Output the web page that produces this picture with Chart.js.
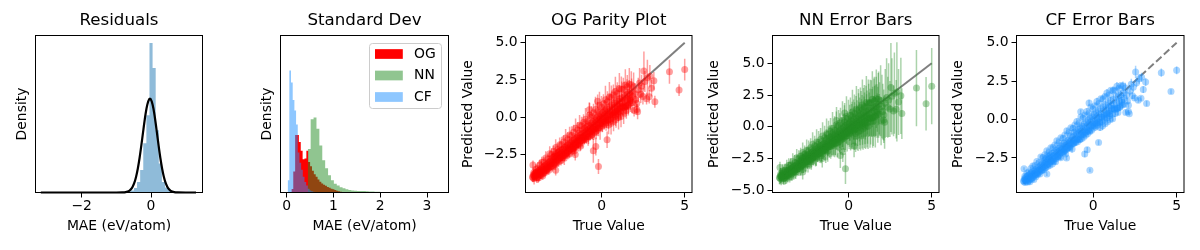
<!DOCTYPE html>
<html>
<head>
<meta charset="utf-8">
<script src="https://cdn.jsdelivr.net/npm/chart.js@4.4.1/dist/chart.umd.min.js"></script>
<style>
  html, body { margin: 0; padding: 0; background: #fff; }
  #figure { position: relative; width: 1200px; height: 250px; overflow: hidden; }
  #figure canvas { position: absolute; top: 0; }
</style>
</head>
<body>
<div id="figure">
  <canvas id="residuals"></canvas>
  <canvas id="stddev"></canvas>
  <canvas id="ogParity"></canvas>
  <canvas id="nnParity"></canvas>
  <canvas id="cfParity"></canvas>
</div>
<script>
// ---- residuals panel ----
const residualRange = [-3.18, 1.30];
const residualDensity = [
  0.004, 0, 0, 0.004, 0, 0, 0, 0, 0, 0,
  0, 0, 0, 0, 0.004, 0.004, 0.004, 0.004, 0, 0,
  0, 0, 0, 0.004, 0.004, 0.006, 0.012, 0.015, 0.025, 0.04,
  0.09, 0.21, 0.45, 0.99, 1.55, 3.0, 2.5, 1.25, 0.58, 0.21,
  0.1, 0.045, 0.02, 0.01, 0.006, 0.004, 0, 0.004, 0, 0.004
];
const fitX = [-3.18, -1.5, -1.0, -0.83, -0.73, -0.63, -0.58, -0.53, -0.48, -0.43, -0.38, -0.33, -0.28, -0.23, -0.18, -0.13, -0.08,
  -0.03, 0.02, 0.07, 0.12, 0.17, 0.22, 0.27, 0.32, 0.37, 0.42, 0.47, 0.52, 0.57, 0.67, 0.77, 1.0, 1.30];
const fitY = [0, 0, 0, 0.0015, 0.008, 0.034, 0.065, 0.117, 0.198, 0.317, 0.482, 0.692, 0.939, 1.206, 1.465, 1.684, 1.830,
  1.882, 1.830, 1.684, 1.465, 1.206, 0.939, 0.692, 0.482, 0.317, 0.198, 0.117, 0.065, 0.034, 0.008, 0.0015, 0, 0];
const residualXTicks = [-2, 0];

// ---- standard deviation panel ----
const ogStdRange = [0.10, 1.26];
const ogStdDensity = [0.2, 1.2, 3.3, 3.3, 2.9, 2.4, 1.9, 1.95, 2.4, 1.75,
  1.5, 1.25, 1.05, 0.9, 0.75, 0.62, 0.52, 0.45, 0.38, 0.32,
  0.27, 0.22, 0.18, 0.14, 0.1, 0.07, 0.04, 0.02, 0.01];
const nnStdRange = [0.45, 2.434];
const nnStdDensity = [2.5, 4.2, 4.3, 3.65, 2.7, 1.85, 1.39, 0.99, 0.7, 0.5,
  0.4, 0.3, 0.25, 0.18, 0.15, 0.12, 0.1, 0.09, 0.08, 0.08,
  0.07, 0.06, 0.06, 0.05, 0.05, 0.02, 0, 0.03, 0, 0.02,
  0.03, 0.02];
const cfStdRange = [0.02, 0.812];
const cfStdDensity = [0.7, 7.0, 6.3, 5.3, 4.7, 3.9, 2.3, 1.7, 1.3, 0.9,
  0.6, 0.4, 0.22, 0.12, 0.07, 0.04, 0.03, 0.02, 0.015, 0.01,
  0.01, 0.005];
const stdXTicks = [0, 1, 2, 3];
const modelNames = ['OG', 'NN', 'CF'];

// ---- parity panels (same predictions, three uncertainty estimates) ----
const trueValue = [
  -4.18,-4.15,-4.12,-4.10,-4.08,-4.05,-4.02,-3.98,-3.95,-3.92,
  -3.90,-3.87,-3.84,-3.80,-3.78,-3.75,-3.72,-3.70,-3.67,-3.64,
  -3.61,-3.58,-3.55,-3.52,-3.50,-3.47,-3.44,-3.41,-3.38,-3.35,
  -3.32,-3.29,-3.26,-3.23,-3.20,-3.17,-3.14,-3.11,-3.08,-3.05,
  -3.02,
  -2.98,-2.96,-2.93,-2.90,-2.88,-2.85,-2.82,-2.80,-2.77,-2.74,
  -2.72,-2.69,-2.66,-2.63,-2.60,-2.58,-2.55,-2.52,-2.49,-2.46,
  -2.44,-2.41,-2.38,-2.35,-2.32,-2.29,-2.26,-2.23,-2.20,-2.17,
  -2.14,-2.11,-2.08,-2.05,-2.02,-1.99,-1.96,-1.93,-1.90,-1.87,
  -1.84,-1.81,-1.78,-1.75,-1.72,-1.69,-1.66,-1.63,-1.60,-1.57,
  -1.54,-1.51,
  -1.48,-1.45,-1.42,-1.39,-1.36,-1.33,-1.30,-1.27,-1.24,-1.21,
  -1.18,-1.15,-1.12,-1.09,-1.06,-1.03,-1.00,-0.97,-0.94,-0.91,
  -0.88,-0.85,-0.82,-0.79,-0.76,-0.73,-0.70,-0.67,-0.64,-0.61,
  -0.58,-0.55,-0.52,-0.49,-0.46,-0.43,-0.40,-0.37,-0.34,-0.31,
  -0.28,-0.25,-0.22,-0.19,-0.16,-0.13,-0.10,-0.07,-0.04,-0.01,
  0.02,0.05,0.08,0.11,0.14,0.17,0.20,0.23,0.26,0.29,
  0.32,0.35,0.38,0.41,0.44,0.47,0.50,0.53,0.56,0.59,
  0.62,0.65,0.68,0.71,0.74,0.77,0.80,0.83,0.86,0.89,
  0.92,0.95,0.98,1.01,1.04,1.07,1.10,1.13,1.16,1.20,
  1.24,1.28,1.32,1.36,1.40,1.44,1.48,1.52,1.56,1.60,
  1.65,1.70,
  1.75,1.80,1.85,1.92,1.95,2.00,2.05,2.11,2.11,2.16,
  2.20,2.28,2.35,2.40,2.48,2.54,2.60,2.70,2.75,2.86,
  2.90,3.00,3.14,3.20,
  -4.15,-2.78,-1.60,-0.51,-0.36,-0.20,0.32,-0.25,-0.75,4.08,4.66,5.00,
  // wider spread of the dense band
  -4.10,-4.04,-3.98,-3.92,-3.86,-3.80,-3.74,-3.68,-3.62,-3.56,
  -3.50,-3.44,-3.38,-3.32,-3.26,-3.20,-3.14,-3.08,-3.02,-2.96,
  -2.90,-2.84,-2.78,-2.72,-2.66,-2.60,-2.54,-2.48,-2.42,-2.36,
  -2.30,-2.24,-2.18,-2.12,-2.06,-2.00,-1.94,-1.88,-1.82,-1.76,
  -1.70,-1.64,-1.58,-1.52,-1.46,-1.40,-1.34,-1.28,-1.22,-1.16,
  -1.10,-1.04,-0.98,-0.92,-0.86,-0.80,-0.74,-0.68,-0.62,-0.56,
  -0.50,-0.44,-0.38,-0.32,-0.26,-0.20,-0.14,-0.08,-0.02,0.04,
  0.10,0.16,0.22,0.28,0.34,0.40,0.46,0.52,0.58,0.64,
  0.70,0.76,0.82,0.88,0.94,1.00,1.06,1.12,1.18,1.24,
  1.30,1.36,1.42,1.48,1.54,1.60,1.66,1.72,1.78,1.84
];
const predValue = [
  -3.98,-4.05,-3.85,-3.92,-4.10,-3.78,-3.95,-3.70,-3.88,-4.02,
  -3.65,-3.80,-3.95,-3.58,-3.72,-3.85,-3.50,-3.66,-3.80,-3.42,
  -3.58,-3.70,-3.35,-3.50,-3.62,-3.28,-3.45,-3.58,-3.20,-3.38,
  -3.50,-3.12,-3.30,-3.42,-3.02,-3.22,-3.35,-2.95,-3.12,-3.28,
  -2.86,
  -3.05,-2.70,-2.88,-3.15,-2.62,-2.80,-2.98,-2.50,-2.72,-2.92,
  -2.42,-2.60,-2.85,-2.35,-2.55,-2.75,-2.28,-2.48,-2.68,-2.90,
  -2.20,-2.40,-2.58,-2.12,-2.32,-2.52,-2.75,-2.02,-2.22,-2.42,
  -1.92,-2.12,-2.35,-1.85,-2.05,-2.25,-2.48,-1.72,-1.95,-2.15,
  -1.65,-1.88,-2.08,-1.55,-1.78,-2.00,-2.25,-1.45,-1.68,-1.90,
  -1.38,-1.60,
  -1.82,-1.30,-1.52,-1.75,-1.05,-1.40,-1.62,-1.92,-1.15,-1.35,
  -1.55,-0.82,-1.05,-1.28,-1.50,-0.75,-0.98,-1.20,-1.45,-0.62,
  -0.88,-1.10,-1.32,-0.55,-0.78,-1.00,-1.25,-0.40,-0.68,-0.90,
  -1.15,-0.30,-0.55,-0.78,-1.02,-0.15,-0.45,-0.65,-0.92,-0.05,
  -0.30,-0.55,-0.80,0.08,-0.18,-0.42,-0.70,0.20,-0.05,-0.30,
  -0.55,0.32,0.05,-0.22,-0.48,0.45,0.18,-0.08,-0.35,0.58,
  0.30,0.05,-0.22,-0.52,0.70,0.40,0.15,-0.12,-0.40,0.85,
  0.55,0.28,0.02,-0.28,0.95,0.68,0.40,0.12,-0.15,1.10,
  0.80,0.52,0.25,-0.02,1.22,0.92,0.62,0.35,0.05,1.30,
  0.98,0.68,0.40,1.48,1.10,0.75,0.45,1.55,1.20,0.85,
  1.62,1.25,
  0.95,1.75,1.40,2.05,0.45,1.60,1.20,0.93,0.53,0.37,
  1.85,2.30,1.55,2.10,1.40,3.10,2.40,1.25,2.65,1.38,
  2.75,1.95,2.44,1.04,
  -3.20,-3.55,-2.50,-2.25,-1.96,-3.30,-1.50,1.08,0.50,3.05,1.82,3.20,
  -3.70,-3.94,-3.48,-4.07,-3.41,-4.05,-3.19,-3.88,-3.02,-3.91,
  -3.00,-3.72,-2.73,-3.57,-2.81,-3.55,-2.44,-3.29,-2.47,-3.28,
  -2.30,-3.12,-2.03,-3.04,-2.16,-2.98,-1.84,-2.73,-1.82,-2.71,
  -1.65,-2.56,-1.38,-2.40,-1.51,-2.42,-1.19,-2.13,-1.22,-2.11,
  -1.00,-1.99,-0.73,-1.84,-0.86,-1.85,-0.54,-1.56,-0.57,-1.54,
  -0.35,-1.39,-0.13,-1.30,-0.26,-1.29,0.16,-0.96,0.08,-0.98,
  0.30,-0.82,0.52,-0.74,0.39,-0.72,0.81,-0.40,0.68,-0.41,
  0.90,-0.26,1.17,-0.17,1.04,-0.16,1.36,0.17,1.33,0.15,
  1.50,0.31,1.72,0.39,1.59,0.40,1.91,0.74,1.88,0.72,
  1.90,0.66,2.17,0.73,2.04,0.80,2.21,1.12,2.18,0.99
];
const ogStd = [
  0.35,0.30,0.28,0.40,0.41,0.25,0.30,0.22,0.35,0.38,
  0.20,0.28,0.45,0.24,0.30,0.42,0.22,0.26,0.35,0.48,
  0.20,0.32,0.25,0.22,0.40,0.30,0.24,0.36,0.21,0.45,
  0.28,0.23,0.33,0.26,0.50,0.22,0.30,0.38,0.24,0.28,
  0.35,
  0.30,0.25,0.42,0.35,0.22,0.28,0.55,0.20,0.32,0.40,
  0.26,0.22,0.48,0.30,0.24,0.36,0.20,0.45,0.28,0.33,
  0.25,0.52,0.30,0.22,0.38,0.27,0.44,0.24,0.60,0.30,
  0.21,0.35,0.42,0.26,0.50,0.30,0.23,0.46,0.28,0.35,
  0.22,0.55,0.30,0.40,0.25,0.48,0.32,0.27,0.62,0.36,
  0.24,0.45,
  0.35,0.28,0.50,0.32,0.40,0.26,0.65,0.30,0.45,0.28,
  0.38,0.55,0.30,0.42,0.33,0.27,0.70,0.36,0.30,0.48,
  0.32,0.40,0.58,0.29,0.45,0.35,0.31,0.62,0.38,0.44,
  0.30,0.50,0.36,0.75,0.40,0.33,0.46,0.30,0.55,0.42,
  0.36,0.68,0.32,0.48,0.40,0.35,0.80,0.44,0.38,0.52,
  0.45,0.38,0.60,0.42,0.35,0.70,0.48,0.40,0.55,0.85,
  0.44,0.50,0.38,0.62,0.90,0.46,0.52,0.40,0.75,0.95,
  0.48,0.58,0.42,0.66,1.00,0.50,0.45,0.70,0.55,1.05,
  0.52,0.62,0.48,0.80,0.95,0.55,0.68,0.50,0.72,1.10,
  0.58,0.65,0.85,0.90,0.60,0.75,0.55,1.00,0.70,0.62,
  0.88,0.75,
  0.60,0.85,0.50,0.95,0.40,0.70,0.55,0.45,0.35,0.50,
  0.80,1.00,0.60,0.75,0.55,1.30,0.70,0.40,1.20,0.45,
  0.75,0.55,0.60,0.40,
  0.30,0.35,0.40,0.80,0.60,0.50,0.55,0.45,0.50,0.80,0.40,0.73,
  0.30,0.25,0.35,0.22,0.40,0.28,0.32,0.25,0.38,0.30,
  0.35,0.28,0.45,0.30,0.38,0.32,0.50,0.27,0.42,0.35,
  0.40,0.30,0.55,0.35,0.42,0.33,0.48,0.30,0.52,0.38,
  0.45,0.35,0.60,0.38,0.50,0.40,0.55,0.33,0.62,0.42,
  0.50,0.38,0.65,0.42,0.55,0.45,0.70,0.40,0.60,0.48,
  0.55,0.42,0.75,0.45,0.60,0.50,0.80,0.44,0.68,0.52,
  0.60,0.48,0.85,0.50,0.65,0.55,0.90,0.48,0.75,0.58,
  0.65,0.52,0.95,0.55,0.70,0.60,1.00,0.52,0.80,0.62,
  0.70,0.55,1.00,0.58,0.75,0.65,1.05,0.55,0.85,0.65,
  0.75,0.60,1.05,0.62,0.80,0.68,1.10,0.60,0.90,0.70
];
const nnStd = [
  0.55,0.48,0.62,0.52,0.50,0.45,0.58,0.42,0.60,0.55,
  0.48,0.52,0.60,0.45,0.55,0.62,0.50,0.47,0.58,0.65,
  0.46,0.55,0.60,0.50,0.62,0.48,0.56,0.64,0.52,0.58,
  0.66,0.50,0.55,0.62,0.48,0.60,0.57,0.68,0.52,0.60,
  0.55,
  0.55,0.62,0.50,0.70,0.58,0.52,0.65,0.56,0.60,0.72,
  0.54,0.58,0.66,0.52,0.60,0.75,0.57,0.55,0.63,0.70,
  0.53,0.61,0.68,0.58,0.56,0.74,0.62,0.55,0.66,0.60,
  0.57,0.70,0.59,0.64,0.56,0.78,0.60,0.58,0.67,0.62,
  0.55,0.72,0.60,0.65,0.58,0.80,0.62,0.57,0.70,0.64,
  0.60,0.75,
  0.80,0.90,0.75,1.10,0.85,0.78,0.98,0.83,1.17,0.80,
  0.88,0.94,0.78,1.24,0.86,0.91,0.80,1.04,0.88,0.96,
  0.83,1.30,0.91,0.86,1.01,0.80,1.14,0.94,0.88,0.99,
  0.85,1.37,0.91,0.96,1.07,0.88,1.17,0.94,0.86,1.09,
  0.91,1.43,0.98,0.88,1.12,0.94,1.24,1.01,0.91,1.14,
  1.20,1.42,1.12,1.65,1.28,1.35,1.80,1.23,1.42,1.58,
  1.32,1.88,1.28,1.47,1.72,1.35,1.95,1.38,1.50,1.80,
  1.42,2.02,1.47,1.58,1.88,1.50,2.10,1.53,1.65,1.95,
  1.58,2.18,1.62,1.72,2.02,1.65,2.25,1.68,1.80,2.10,
  1.72,2.32,1.80,2.18,1.88,2.40,1.95,2.25,2.02,2.48,
  2.32,2.10,
  2.20,2.60,2.10,2.80,1.90,2.50,2.20,2.00,1.80,2.10,
  2.70,3.10,2.40,2.90,2.20,3.50,3.00,2.00,3.20,2.30,
  3.90,2.60,3.00,2.00,
  0.45,0.60,0.70,1.00,0.80,1.20,0.90,0.80,0.70,3.00,2.10,3.00,
  0.45,0.40,0.55,0.42,0.50,0.45,0.60,0.44,0.55,0.48,
  0.55,0.50,0.65,0.52,0.60,0.55,0.70,0.50,0.62,0.58,
  0.65,0.55,0.80,0.58,0.70,0.60,0.85,0.58,0.75,0.62,
  0.75,0.62,0.95,0.65,0.80,0.70,1.00,0.65,0.90,0.72,
  0.90,0.70,1.10,0.75,0.95,0.80,1.20,0.75,1.05,0.85,
  1.05,0.85,1.30,0.90,1.10,0.95,1.40,0.90,1.25,1.00,
  1.20,1.00,1.50,1.05,1.30,1.10,1.60,1.05,1.45,1.15,
  1.40,1.15,1.75,1.20,1.50,1.25,1.85,1.20,1.65,1.30,
  1.60,1.30,2.00,1.35,1.70,1.40,2.10,1.35,1.85,1.45,
  1.80,1.45,2.20,1.50,1.90,1.55,2.30,1.50,2.05,1.60
];
const cfStd = [
  0.10,0.08,0.12,0.07,0.18,0.09,0.11,0.07,0.13,0.10,
  0.08,0.15,0.09,0.07,0.12,0.10,0.08,0.14,0.07,0.11,
  0.09,0.13,0.07,0.08,0.16,0.10,0.07,0.12,0.09,0.08,
  0.20,0.07,0.11,0.09,0.13,0.08,0.10,0.07,0.15,0.09,
  0.11,
  0.08,0.12,0.07,0.15,0.09,0.10,0.07,0.13,0.08,0.18,
  0.09,0.07,0.11,0.14,0.08,0.10,0.07,0.12,0.16,0.09,
  0.08,0.11,0.07,0.13,0.10,0.08,0.20,0.09,0.07,0.12,
  0.10,0.08,0.14,0.07,0.11,0.09,0.17,0.08,0.12,0.07,
  0.10,0.13,0.08,0.09,0.15,0.07,0.11,0.10,0.08,0.22,
  0.09,0.12,
  0.10,0.14,0.08,0.12,0.18,0.09,0.11,0.25,0.10,0.13,
  0.08,0.15,0.11,0.09,0.20,0.12,0.10,0.14,0.08,0.17,
  0.11,0.09,0.13,0.22,0.10,0.12,0.08,0.16,0.11,0.10,
  0.14,0.09,0.19,0.12,0.10,0.15,0.08,0.13,0.11,0.24,
  0.10,0.14,0.09,0.12,0.18,0.11,0.10,0.16,0.13,0.12,
  0.12,0.15,0.10,0.18,0.13,0.20,0.11,0.14,0.25,0.16,
  0.12,0.18,0.10,0.22,0.15,0.13,0.19,0.11,0.28,0.17,
  0.14,0.20,0.12,0.16,0.24,0.15,0.13,0.21,0.12,0.30,
  0.16,0.14,0.22,0.13,0.26,0.18,0.15,0.20,0.14,0.32,
  0.17,0.15,0.24,0.28,0.18,0.22,0.16,0.30,0.20,0.18,
  0.26,0.22,
  0.20,0.30,0.18,0.35,0.15,0.25,0.20,0.16,0.14,0.12,
  0.28,0.35,0.22,0.30,0.18,0.40,0.28,0.15,0.32,0.16,
  0.30,0.22,0.25,0.18,
  0.10,0.12,0.15,0.20,0.18,0.12,0.15,0.20,0.16,0.27,0.15,0.25,
  0.08,0.10,0.07,0.12,0.09,0.08,0.11,0.07,0.10,0.09,
  0.09,0.12,0.08,0.10,0.14,0.09,0.11,0.08,0.13,0.10,
  0.10,0.08,0.15,0.11,0.09,0.13,0.10,0.12,0.08,0.14,
  0.11,0.09,0.16,0.12,0.10,0.14,0.09,0.13,0.18,0.11,
  0.12,0.10,0.18,0.13,0.11,0.15,0.10,0.14,0.20,0.12,
  0.13,0.11,0.20,0.14,0.12,0.16,0.11,0.15,0.22,0.13,
  0.14,0.12,0.22,0.15,0.13,0.18,0.12,0.16,0.24,0.14,
  0.15,0.13,0.24,0.16,0.14,0.20,0.13,0.18,0.26,0.15,
  0.16,0.14,0.26,0.18,0.15,0.22,0.14,0.20,0.28,0.16,
  0.18,0.15,0.28,0.20,0.16,0.24,0.15,0.22,0.30,0.18
];
const parityLine = [-4.18, 5.0];
const parityXTicks = [0, 5];
const ogYTicks = [-2.5, 0, 2.5, 5];
const nnYTicks = [-5, -2.5, 0, 2.5, 5];
const cfYTicks = [-2.5, 0, 2.5, 5];

// ---------------------------------------------------------------
const FONT = "'DejaVu Sans', sans-serif";
const TICK_SIZE = 13.9;
Chart.defaults.font.family = FONT;
Chart.defaults.font.size = TICK_SIZE;
Chart.defaults.color = '#000';
Chart.defaults.animation = false;

const withMinus = s => s.replace('-', '\u2212');
const intLabel = v => withMinus(String(v));
const oneDecimal = v => withMinus(v.toFixed(1));

// step outline of a histogram so that it can be filled down to zero
function histSteps(range, density) {
  const w = (range[1] - range[0]) / density.length;
  const pts = [{ x: range[0], y: 0 }];
  density.forEach((d, i) => pts.push({ x: range[0] + i * w, y: d }));
  pts.push({ x: range[1], y: density[density.length - 1] });
  pts.push({ x: range[1], y: 0 });
  return pts;
}

// box around the axes, like matplotlib spines
const framePlugin = {
  id: 'frame',
  afterDatasetsDraw(chart) {
    const { ctx, chartArea: a } = chart;
    ctx.save();
    ctx.strokeStyle = '#000';
    ctx.lineWidth = 1;
    ctx.strokeRect(a.left, a.top, a.right - a.left, a.bottom - a.top);
    ctx.restore();
  }
};

// vertical error bars, drawn just under their own markers
const errorBarPlugin = {
  id: 'errorBars',
  beforeDatasetDraw(chart, args) {
    const ds = chart.data.datasets[args.index];
    if (!ds.errors) return;
    const { ctx, chartArea: a, scales: { x, y } } = chart;
    ctx.save();
    ctx.beginPath();
    ctx.rect(a.left, a.top, a.right - a.left, a.bottom - a.top);
    ctx.clip();
    ctx.strokeStyle = ds.errorColor;
    ctx.lineWidth = 1.5;
    ds.data.forEach((p, i) => {
      const px = x.getPixelForValue(p.x);
      ctx.beginPath();
      ctx.moveTo(px, y.getPixelForValue(p.y - ds.errors[i]));
      ctx.lineTo(px, y.getPixelForValue(p.y + ds.errors[i]));
      ctx.stroke();
    });
    ctx.restore();
  }
};

// framed legend in the upper right corner
const boxLegendPlugin = {
  id: 'boxLegend',
  afterDraw(chart, args, opts) {
    if (!opts.show) return;
    const { ctx, chartArea: a } = chart;
    const right = a.right - 7, top = a.top + 8, w = 72, h = 65, left = right - w;
    ctx.save();
    ctx.beginPath();
    ctx.roundRect(left, top, w, h, 3);
    ctx.fillStyle = 'rgba(255,255,255,0.8)';
    ctx.fill();
    ctx.strokeStyle = '#cccccc';
    ctx.lineWidth = 1;
    ctx.stroke();
    opts.order.forEach((idx, k) => {
      const ds = chart.data.datasets[idx];
      const cy = top + 10.5 + k * 21.5;
      ctx.fillStyle = ds.backgroundColor;
      ctx.fillRect(left + 5.5, cy - 4.85, 27.8, 9.7);
      ctx.fillStyle = '#000';
      ctx.font = TICK_SIZE + 'px ' + FONT;
      ctx.textBaseline = 'middle';
      ctx.textAlign = 'left';
      ctx.fillText(ds.label, left + 44.5, cy);
    });
    ctx.restore();
  }
};

Chart.register(framePlugin, errorBarPlugin, boxLegendPlugin);

function place(id, canvasLeft, axLeft, axRight) {
  const el = document.getElementById(id);
  const width = Math.ceil(axRight - canvasLeft + 2);
  el.width = width;
  el.height = 250;
  el.style.left = canvasLeft + 'px';
  el.style.width = width + 'px';
  el.style.height = '250px';
  return { el, yw: axLeft - canvasLeft, padRight: width - (axRight - canvasLeft) };
}

function tickGrid(show) {
  return { display: show, drawOnChartArea: false, drawTicks: true, tickLength: 5, tickColor: '#000', tickWidth: 1 };
}

function panelOptions(p, s) {
  return {
    responsive: false,
    animation: false,
    events: [],
    layout: { padding: { left: 0, top: 0, right: p.padRight, bottom: 0 } },
    plugins: {
      legend: { display: false },
      tooltip: { enabled: false },
      title: {
        display: true, text: s.title, fullSize: false, color: '#000',
        font: { size: 16.67, weight: 'normal', lineHeight: 1.2 },
        padding: { top: 11, bottom: 4.5 }
      },
      boxLegend: s.legend || { show: false }
    },
    scales: {
      x: {
        type: 'linear', min: s.x[0], max: s.x[1],
        afterBuildTicks: ax => { ax.ticks = s.xTicks.map(v => ({ value: v })); },
        afterFit: ax => { ax.height = 57.5; },
        grid: tickGrid(true),
        border: { display: false },
        ticks: { padding: 1, maxRotation: 0, autoSkip: false, callback: v => intLabel(v) },
        title: { display: true, text: s.xTitle, padding: { top: 0, bottom: 15 } }
      },
      y: {
        type: 'linear', min: s.y[0], max: s.y[1],
        afterBuildTicks: ax => { ax.ticks = s.yTicks.map(v => ({ value: v })); },
        afterFit: ax => { ax.width = p.yw; },
        grid: tickGrid(s.yTicks.length > 0),
        border: { display: false },
        ticks: { display: s.yTicks.length > 0, padding: 3, autoSkip: false, callback: v => oneDecimal(v) },
        title: { display: true, text: s.yTitle, padding: { top: 0, bottom: 0 } }
      }
    }
  };
}

// Residuals
const p1 = place('residuals', 14, 35.5, 202.5);
new Chart(p1.el, {
  type: 'line',
  data: {
    datasets: [
      {
        label: 'fit', data: fitX.map((x, i) => ({ x, y: fitY[i] })),
        borderColor: '#000', borderWidth: 2.2, pointRadius: 0, fill: false,
        cubicInterpolationMode: 'monotone', clip: false, order: 1
      },
      {
        label: 'residuals', data: histSteps(residualRange, residualDensity),
        stepped: true, fill: 'origin', backgroundColor: 'rgba(31,119,180,0.5)',
        borderColor: 'rgba(0,0,0,0)', borderWidth: 0, pointRadius: 0, order: 2
      }
    ]
  },
  options: panelOptions(p1, {
    title: 'Residuals', xTitle: 'MAE (eV/atom)', yTitle: 'Density',
    x: [-3.333, 1.486], y: [0, 3.15], xTicks: residualXTicks, yTicks: []
  })
});

// Standard Dev
const p2 = place('stddev', 259, 280.5, 448.5);
const stdSeries = [
  { range: ogStdRange, density: ogStdDensity, color: 'rgb(255,0,0)', order: 3 },
  { range: nnStdRange, density: nnStdDensity, color: 'rgba(34,139,34,0.5)', order: 2 },
  { range: cfStdRange, density: cfStdDensity, color: 'rgba(30,144,255,0.5)', order: 1 }
];
new Chart(p2.el, {
  type: 'line',
  data: {
    datasets: stdSeries.map((s, i) => ({
      label: modelNames[i], data: histSteps(s.range, s.density),
      stepped: true, fill: 'origin', backgroundColor: s.color,
      borderColor: 'rgba(0,0,0,0)', borderWidth: 0, pointRadius: 0, order: s.order
    }))
  },
  options: panelOptions(p2, {
    title: 'Standard Dev', xTitle: 'MAE (eV/atom)', yTitle: 'Density',
    x: [-0.133, 3.459], y: [0, 9], xTicks: stdXTicks, yTicks: [],
    legend: { show: true, order: [0, 1, 2] }
  })
});

// Parity / error bar panels
function parityChart(p, title, stds, color, yRange, yTicks, dash) {
  new Chart(p.el, {
    type: 'scatter',
    data: {
      datasets: [
        {
          label: title, data: trueValue.map((x, i) => ({ x, y: predValue[i] })),
          errors: stds, errorColor: color,
          backgroundColor: color, borderWidth: 0, pointRadius: 3.5, order: 1
        },
        {
          type: 'line', label: 'ideal', data: parityLine.map(v => ({ x: v, y: v })),
          borderColor: 'rgba(0,0,0,0.5)', borderWidth: 2, borderDash: dash,
          pointRadius: 0, fill: false, order: 2
        }
      ]
    },
    options: panelOptions(p, {
      title, xTitle: 'True Value', yTitle: 'Predicted Value',
      x: [-4.6, 5.44], y: yRange, xTicks: parityXTicks, yTicks
    })
  });
}

parityChart(place('ogParity', 460, 525.5, 693.5), 'OG Parity Plot', ogStd,
  'rgba(255,0,0,0.38)', [-5.04, 5.48], ogYTicks, []);
parityChart(place('nnParity', 706, 772.5, 940.5), 'NN Error Bars', nnStd,
  'rgba(34,139,34,0.38)', [-5.17, 7.19], nnYTicks, []);
parityChart(place('cfParity', 950, 1016.5, 1185.5), 'CF Error Bars', cfStd,
  'rgba(30,144,255,0.38)', [-4.75, 5.47], cfYTicks, [7.4, 3.2]);
</script>
</body>
</html>
